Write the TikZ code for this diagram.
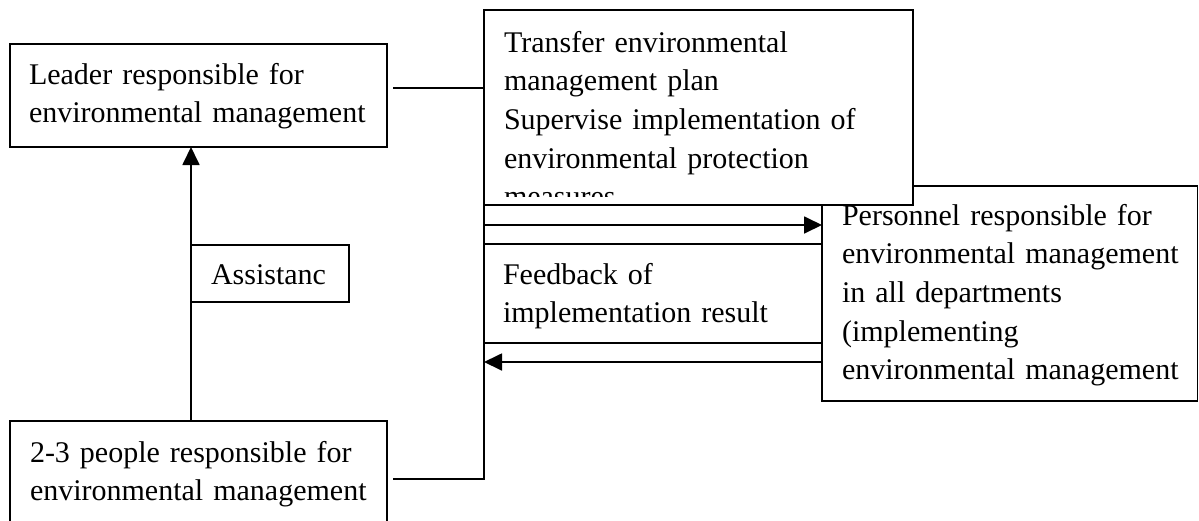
\documentclass[tikz,border=0pt]{standalone}
\usepackage{fontspec}
\setmainfont{Liberation Serif}
\usetikzlibrary{arrows.meta}
\tikzset{
  box/.style={draw, rectangle, line width=1.8pt, inner sep=0pt, outer sep=0pt, fill=white},
  txt/.style={anchor=base west, inner sep=0pt, outer sep=0pt, text width=420pt, align=left,
              font=\fontsize{30pt}{38.7pt}\selectfont},
  conn/.style={line width=1.8pt},
  arr/.style={line width=1.8pt, -{Triangle[length=18pt,width=17pt]}}
}
\begin{document}
\begin{tikzpicture}[x=1pt,y=-1pt]
\useasboundingbox (0,0) rectangle (1199,520);
\clip (0,0) rectangle (1199,520);
\fill[white] (0,0) rectangle (1199,520);

% boxes
\node[box, minimum width=377pt, minimum height=103pt] (leader) at (198.5,95.5) {};
\node[txt] (leaderT) at (29,84) {Leader responsible for\\environmental management};

\node[box, minimum width=375.5pt, minimum height=215pt] (pers) at (1009.75,293.5) {};
\node[txt] (persT) at (842,225) {Personnel responsible for\\environmental management\\in all departments\\(implementing\\environmental management};

\node[box, minimum width=429pt, minimum height=195pt] (transfer) at (698.5,107.5) {};
\begin{scope}
  \clip (484,10) rectangle (913,196.5);
  \node[txt] (transferT) at (504,52) {Transfer environmental\\management plan\\Supervise implementation of\\environmental protection\\measures};
\end{scope}

\node[box, minimum width=338pt, minimum height=99pt] (feedback) at (653,293.5) {};
\node[txt] (feedbackT) at (503,284) {Feedback of\\implementation result};

\node[box, minimum width=377pt, minimum height=119pt] (bottom) at (198.5,480.5) {};
\node[txt] (bottomT) at (30,462) {2-3 people responsible for\\environmental management};

\node[box, minimum width=158pt, minimum height=57pt] (assist) at (270,273.5) {};
\node[txt] (assistT) at (211,284) {Assistanc};

% connectors
\draw[arr] (assist.west |- bottom.north) -- (assist.west |- leader.south);

\coordinate (l1) at (393,88);
\draw[conn] (l1) -- (l1 -| transfer.west);

\coordinate (a1) at (484,225);
\draw[arr] (a1) -- (a1 -| pers.west);

\coordinate (a2) at (484,362);
\draw[arr] (a2 -| pers.west) -- (a2);

\coordinate (c1) at (393,479);
\draw[conn] (c1) -- (c1 -| transfer.south west) -- (transfer.south west);
\end{tikzpicture}
\end{document}
